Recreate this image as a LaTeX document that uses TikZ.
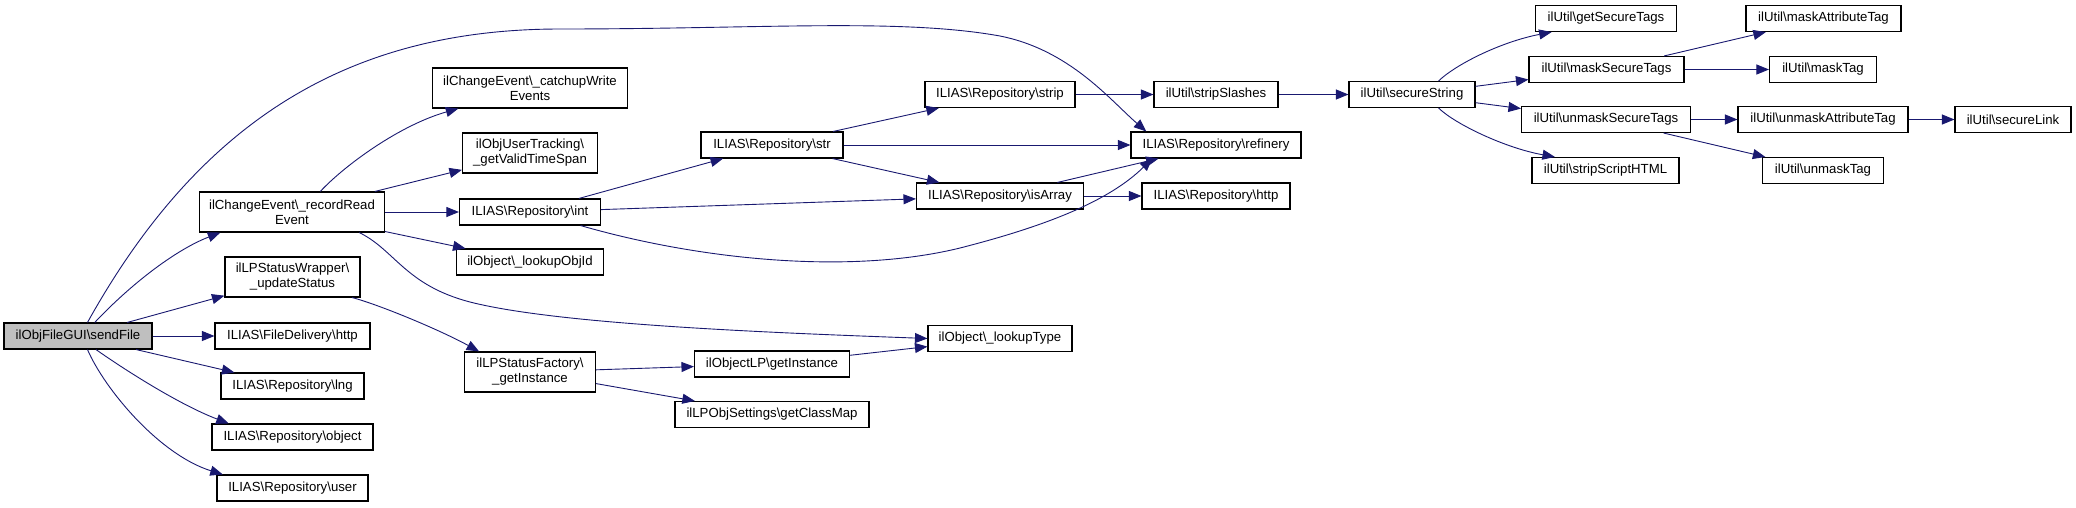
\documentclass[tikz,border=0pt]{standalone}
\usepackage{fontspec}
\setmainfont{Liberation Sans}
\usetikzlibrary{arrows.meta}
\newcommand{\bsl}{\textbackslash}
\definecolor{edgeblue}{HTML}{191970}
\definecolor{rootgray}{HTML}{BFBFBF}

\begin{document}
\begin{tikzpicture}[x=1pt,y=-1pt,
		box/.style={draw=black,line width=1.1pt,fill=white,inner xsep=2pt,inner ysep=1pt,
			minimum height=26pt,align=center,font=\fontsize{13.2}{15}\selectfont},
		root/.style={box,fill=rootgray},
		edge/.style={draw=edgeblue,line width=0.9pt,-{Triangle[length=12.5pt,width=10pt]}}]
		\useasboundingbox (0,0) rectangle (2076,507);
		% callers column
		\node [root, minimum width=148pt] (sendFile) at (78,336) {ilObjFileGUI\bsl sendFile};
		\node [box, minimum width=185pt, minimum height=40pt] (recordRead) at (292,212) {ilChangeEvent\bsl\_recordRead\\Event};
		\node [box, minimum width=135pt, minimum height=40pt] (updateStatus) at (292.5,277) {ilLPStatusWrapper\bsl\\\_updateStatus};
		\node [box, minimum width=155pt] (deliveryHttp) at (292.5,336) {ILIAS\bsl FileDelivery\bsl http};
		\node [box, minimum width=143pt] (lng) at (292.5,386) {ILIAS\bsl Repository\bsl lng};
		\node [box, minimum width=161pt] (object) at (292.5,437) {ILIAS\bsl Repository\bsl object};
		\node [box, minimum width=151pt] (user) at (292.5,488) {ILIAS\bsl Repository\bsl user};
		\node [box, minimum width=195pt, minimum height=40pt] (catchup) at (530,88) {ilChangeEvent\bsl\_catchupWrite\\Events};
		\node [box, minimum width=135pt, minimum height=40pt] (validSpan) at (530,153) {ilObjUserTracking\bsl\\\_getValidTimeSpan};
		\node [box, minimum width=141pt] (int) at (530,212) {ILIAS\bsl Repository\bsl int};
		\node [box, minimum width=147pt] (lookupObjId) at (530,262) {ilObject\bsl\_lookupObjId};
		\node [box, minimum width=131pt, minimum height=40pt] (factory) at (530,372) {ilLPStatusFactory\bsl\\\_getInstance};
		\node [box, minimum width=142pt] (str) at (772,145) {ILIAS\bsl Repository\bsl str};
		\node [box, minimum width=155pt] (objectLP) at (772,364) {ilObjectLP\bsl getInstance};
		\node [box, minimum width=194pt] (classMap) at (772,414.5) {ilLPObjSettings\bsl getClassMap};
		\node [box, minimum width=150pt] (strip) at (1000,94.5) {ILIAS\bsl Repository\bsl strip};
		\node [box, minimum width=167pt] (isArray) at (1000,196) {ILIAS\bsl Repository\bsl isArray};
		\node [box, minimum width=144pt] (lookupType) at (1000,338.5) {ilObject\bsl\_lookupType};
		\node [box, minimum width=124pt] (stripSlashes) at (1216,94.5) {ilUtil\bsl stripSlashes};
		\node [box, minimum width=170pt] (refinery) at (1216,145) {ILIAS\bsl Repository\bsl refinery};
		\node [box, minimum width=148pt] (repoHttp) at (1216,196) {ILIAS\bsl Repository\bsl http};
		% ilUtil part
		\node [box, minimum width=126pt] (secureString) at (1412,94.5) {ilUtil\bsl secureString};
		\node [box, minimum width=141pt] (getSecureTags) at (1606,18.5) {ilUtil\bsl getSecureTags};
		\node [box, minimum width=155pt] (maskSecure) at (1606.5,69.5) {ilUtil\bsl maskSecureTags};
		\node [box, minimum width=169pt] (unmaskSecure) at (1606,119.5) {ilUtil\bsl unmaskSecureTags};
		\node [box, minimum width=147pt] (stripScript) at (1605.5,170.5) {ilUtil\bsl stripScriptHTML};
		\node [box, minimum width=155pt] (maskAttr) at (1823.5,18.5) {ilUtil\bsl maskAttributeTag};
		\node [box, minimum width=107pt] (maskTag) at (1823,69.5) {ilUtil\bsl maskTag};
		\node [box, minimum width=170pt] (unmaskAttr) at (1823,119.5) {ilUtil\bsl unmaskAttributeTag};
		\node [box, minimum width=121pt] (unmaskTag) at (1823,170.5) {ilUtil\bsl unmaskTag};
		\node [box, minimum width=116pt] (secureLink) at (2013,119.5) {ilUtil\bsl secureLink};
		% calls from sendFile
		\draw [edge] (sendFile.55) .. controls (200,120) and (350,29) .. (560,29)
			.. controls (760,29) and (900,18) .. (1000,36) .. controls (1070,50) and (1110,100) .. (refinery.169);
		\draw [edge] (sendFile.39) .. controls (130,285) and (175,250) .. (recordRead.196);
		\draw [edge] (sendFile) -- (updateStatus);
		\draw [edge] (sendFile) -- (deliveryHttp);
		\draw [edge] (sendFile) -- (lng);
		\draw [edge] (sendFile.-37) .. controls (125,370) and (180,405) .. (object.168);
		\draw [edge] (sendFile.-55) .. controls (105,390) and (160,455) .. (user.169);
		% calls from recordRead
		\draw [edge] (recordRead.36) .. controls (345,165) and (400,125) .. (catchup.196);
		\draw [edge] (recordRead) -- (validSpan);
		\draw [edge] (recordRead) -- (int);
		\draw [edge] (recordRead) -- (lookupObjId);
		\draw [edge] (recordRead.-17) .. controls (395,250) and (405,285) .. (470,302)
			.. controls (560,325) and (780,333) .. (lookupType.west);
		\draw [edge] (updateStatus.-19) .. controls (380,305) and (440,330) .. (factory.158);
		% repository calls
		\draw [edge] (int) -- (str);
		\draw [edge] (int) -- (isArray);
		\draw [edge] (int.-15) .. controls (700,260) and (850,275) .. (960,248)
			.. controls (1050,225) and (1110,200) .. (refinery.192);
		\draw [edge] (str) -- (strip);
		\draw [edge] (str) -- (refinery);
		\draw [edge] (str) -- (isArray);
		\draw [edge] (isArray) -- (refinery);
		\draw [edge] (isArray) -- (repoHttp);
		\draw [edge] (strip) -- (stripSlashes);
		\draw [edge] (stripSlashes) -- (secureString);
		\draw [edge] (factory) -- (objectLP);
		\draw [edge] (factory) -- (classMap);
		\draw [edge] (objectLP) -- (lookupType);
		% calls from secureString
		\draw [edge] (secureString.27) .. controls (1455,65) and (1500,42) .. (getSecureTags.194);
		\draw [edge] (secureString) -- (maskSecure);
		\draw [edge] (secureString) -- (unmaskSecure);
		\draw [edge] (secureString.-27) .. controls (1455,124) and (1505,148) .. (stripScript.165);
		\draw [edge] (maskSecure) -- (maskAttr);
		\draw [edge] (maskSecure) -- (maskTag);
		\draw [edge] (unmaskSecure) -- (unmaskAttr);
		\draw [edge] (unmaskSecure) -- (unmaskTag);
		\draw [edge] (unmaskAttr) -- (secureLink);
\end{tikzpicture}
\end{document}
